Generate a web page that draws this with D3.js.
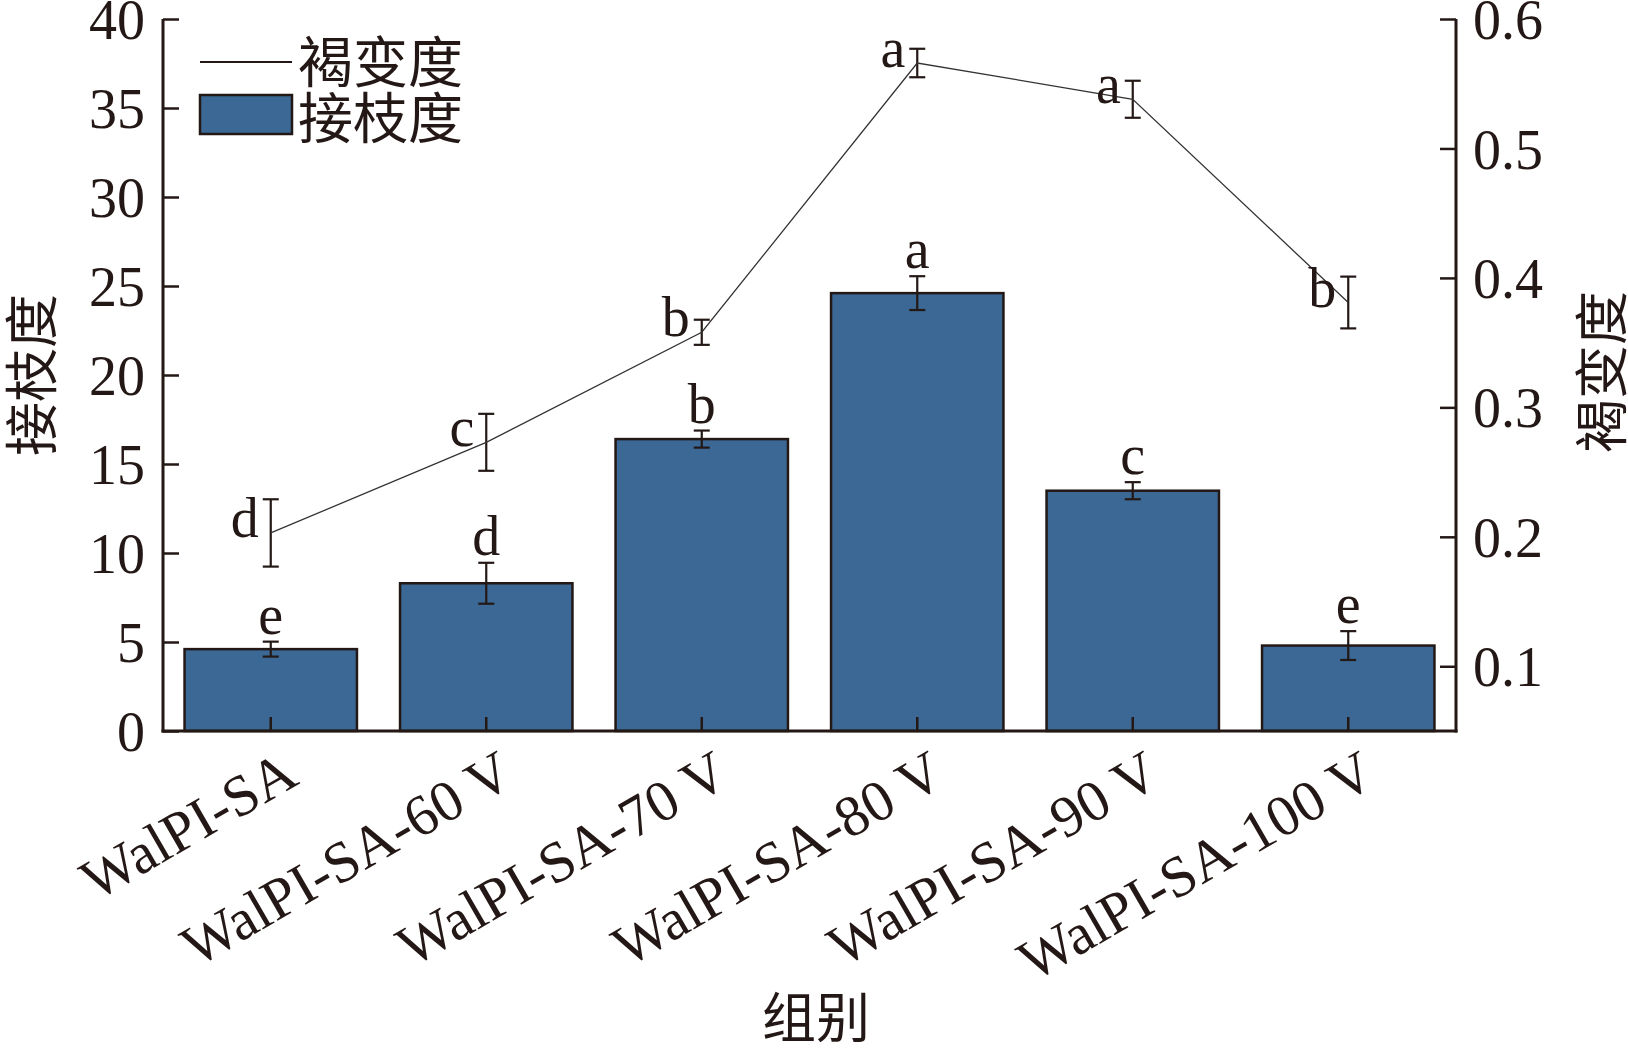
<!DOCTYPE html>
<html lang="zh">
<head>
  <meta charset="UTF-8">
  <title>接枝度与褐变度</title>
  <script src="https://d3js.org/d3.v7.min.js"></script>
  <style>
    body { margin: 0; background: #fff; }
    svg { display: block; }
    text { font-family: "Liberation Serif", "Noto Sans CJK SC", serif; fill: #231815; }
    .cjk { font-family: "Noto Sans CJK SC", sans-serif; }
  </style>
</head>
<body>
  <svg width="1628" height="1050"></svg>
  <script>
    // data
    const groups = ["WalPI-SA", "WalPI-SA-60 V", "WalPI-SA-70 V", "WalPI-SA-80 V", "WalPI-SA-90 V", "WalPI-SA-100 V"];
    const graftDegree = [4.6, 8.3, 16.4, 24.6, 13.5, 4.8];
    const graftErr = [0.42, 1.15, 0.48, 0.95, 0.48, 0.81];
    const graftLetters = ["e", "d", "b", "a", "c", "e"];
    const browning = [0.203, 0.273, 0.358, 0.566, 0.538, 0.381];
    const browningErr = [0.026, 0.022, 0.0097, 0.011, 0.0143, 0.020];
    const browningLetters = ["d", "c", "b", "a", "a", "b"];
    const leftTicks = [0, 5, 10, 15, 20, 25, 30, 35, 40];
    const rightTicks = [0.1, 0.2, 0.3, 0.4, 0.5, 0.6];

    const svg = d3.select("svg");
    const margin = { left: 163, right: 1456, top: 19, bottom: 731 };
    const barColor = "#3b6894";
    const ink = "#231815";

    const x = d3.scaleBand().domain(groups).range([margin.left, margin.right]).paddingInner(0.2).paddingOuter(0.1);
    const yL = d3.scaleLinear().domain([0, 40]).range([margin.bottom, margin.top]);
    const yR = d3.scaleLinear().domain([0.05, 0.6]).range([margin.bottom, margin.top]);

    const cx = g => x(g) + x.bandwidth() / 2;

    // bars
    svg.append("g").selectAll("rect")
      .data(groups)
      .join("rect")
      .attr("x", d => x(d))
      .attr("y", (d, i) => yL(graftDegree[i]))
      .attr("width", x.bandwidth())
      .attr("height", (d, i) => yL(0) - yL(graftDegree[i]))
      .attr("fill", barColor)
      .attr("stroke", ink)
      .attr("stroke-width", 2.5);

    // error bars helper
    function errBar(g, xPos, yTop, yBot) {
      const cap = 8;
      g.append("line").attr("x1", xPos).attr("x2", xPos).attr("y1", yTop).attr("y2", yBot);
      g.append("line").attr("x1", xPos - cap).attr("x2", xPos + cap).attr("y1", yTop).attr("y2", yTop);
      g.append("line").attr("x1", xPos - cap).attr("x2", xPos + cap).attr("y1", yBot).attr("y2", yBot);
    }

    const eb = svg.append("g").attr("stroke", ink).attr("stroke-width", 2.2);
    groups.forEach((g, i) => {
      errBar(eb, cx(g), yL(graftDegree[i] + graftErr[i]), yL(graftDegree[i] - graftErr[i]));
    });

    // bar letters
    svg.append("g").selectAll("text")
      .data(groups)
      .join("text")
      .attr("x", d => cx(d))
      .attr("y", (d, i) => yL(graftDegree[i] + graftErr[i]) - 8)
      .attr("text-anchor", "middle")
      .attr("font-size", 56)
      .text((d, i) => graftLetters[i]);

    // browning line
    const line = d3.line().x((d, i) => cx(groups[i])).y(d => yR(d));
    svg.append("path")
      .datum(browning)
      .attr("d", line)
      .attr("fill", "none")
      .attr("stroke", "#333")
      .attr("stroke-width", 1.3);

    groups.forEach((g, i) => {
      errBar(eb, cx(g), yR(browning[i] + browningErr[i]), yR(browning[i] - browningErr[i]));
    });

    svg.append("g").selectAll("text")
      .data(groups)
      .join("text")
      .attr("x", d => cx(d) - 12)
      .attr("y", (d, i) => yR(browning[i]) + 4)
      .attr("text-anchor", "end")
      .attr("font-size", 56)
      .text((d, i) => browningLetters[i]);

    // axes
    const axisG = svg.append("g").attr("stroke", ink).attr("stroke-width", 3).attr("fill", "none");
    axisG.append("line").attr("x1", margin.left).attr("x2", margin.left).attr("y1", margin.top).attr("y2", margin.bottom + 1.5);
    axisG.append("line").attr("x1", margin.right).attr("x2", margin.right).attr("y1", margin.top).attr("y2", margin.bottom + 1.5);
    axisG.append("line").attr("x1", margin.left - 1.5).attr("x2", margin.right + 1.5).attr("y1", margin.bottom).attr("y2", margin.bottom);

    const left = svg.append("g").attr("transform", `translate(${margin.left},0)`)
      .call(d3.axisRight(yL).tickValues(leftTicks).tickSize(16).tickFormat(d3.format("d")));
    left.select(".domain").remove();
    left.selectAll(".tick line").attr("stroke", ink).attr("stroke-width", 2.5);
    left.selectAll(".tick text")
      .attr("x", -18).attr("text-anchor", "end").attr("dy", "0.35em")
      .attr("font-size", 56).attr("font-family", "Liberation Serif").attr("fill", ink);

    const right = svg.append("g").attr("transform", `translate(${margin.right},0)`)
      .call(d3.axisLeft(yR).tickValues(rightTicks).tickSize(16).tickFormat(d3.format(".1f")));
    right.select(".domain").remove();
    right.selectAll(".tick line").attr("stroke", ink).attr("stroke-width", 2.5);
    right.selectAll(".tick text")
      .attr("x", 17).attr("text-anchor", "start").attr("dy", "0.35em")
      .attr("font-size", 56).attr("font-family", "Liberation Serif").attr("fill", ink);

    const bottom = svg.append("g").attr("transform", `translate(0,${margin.bottom})`)
      .call(d3.axisTop(x).tickSize(14).tickFormat(""));
    bottom.select(".domain").remove();
    bottom.selectAll(".tick line").attr("stroke", ink).attr("stroke-width", 2.5);

    // category labels
    svg.append("g").selectAll("text")
      .data(groups)
      .join("text")
      .attr("transform", d => `translate(${cx(d) + 30},${margin.bottom + 52}) rotate(-30)`)
      .attr("text-anchor", "end")
      .attr("font-size", 58)
      .text(d => d);

    // axis titles
    svg.append("text").attr("class", "cjk")
      .attr("transform", `translate(52,375) rotate(-90)`)
      .attr("text-anchor", "middle").attr("font-size", 54)
      .text("接枝度");
    svg.append("text").attr("class", "cjk")
      .attr("transform", `translate(1622,372) rotate(-90)`)
      .attr("text-anchor", "middle").attr("font-size", 54)
      .text("褐变度");
    svg.append("text").attr("class", "cjk")
      .attr("x", 816).attr("y", 1038)
      .attr("text-anchor", "middle").attr("font-size", 54)
      .text("组别");

    // legend
    const lg = svg.append("g");
    lg.append("line").attr("x1", 200).attr("x2", 292).attr("y1", 62).attr("y2", 62)
      .attr("stroke", ink).attr("stroke-width", 2);
    lg.append("rect").attr("x", 200).attr("y", 95).attr("width", 92).attr("height", 39)
      .attr("fill", barColor).attr("stroke", ink).attr("stroke-width", 2.5);
    lg.append("text").attr("class", "cjk").attr("x", 298).attr("y", 82).attr("font-size", 55).text("褐变度");
    lg.append("text").attr("class", "cjk").attr("x", 298).attr("y", 138).attr("font-size", 55).text("接枝度");
  </script>
</body>
</html>
